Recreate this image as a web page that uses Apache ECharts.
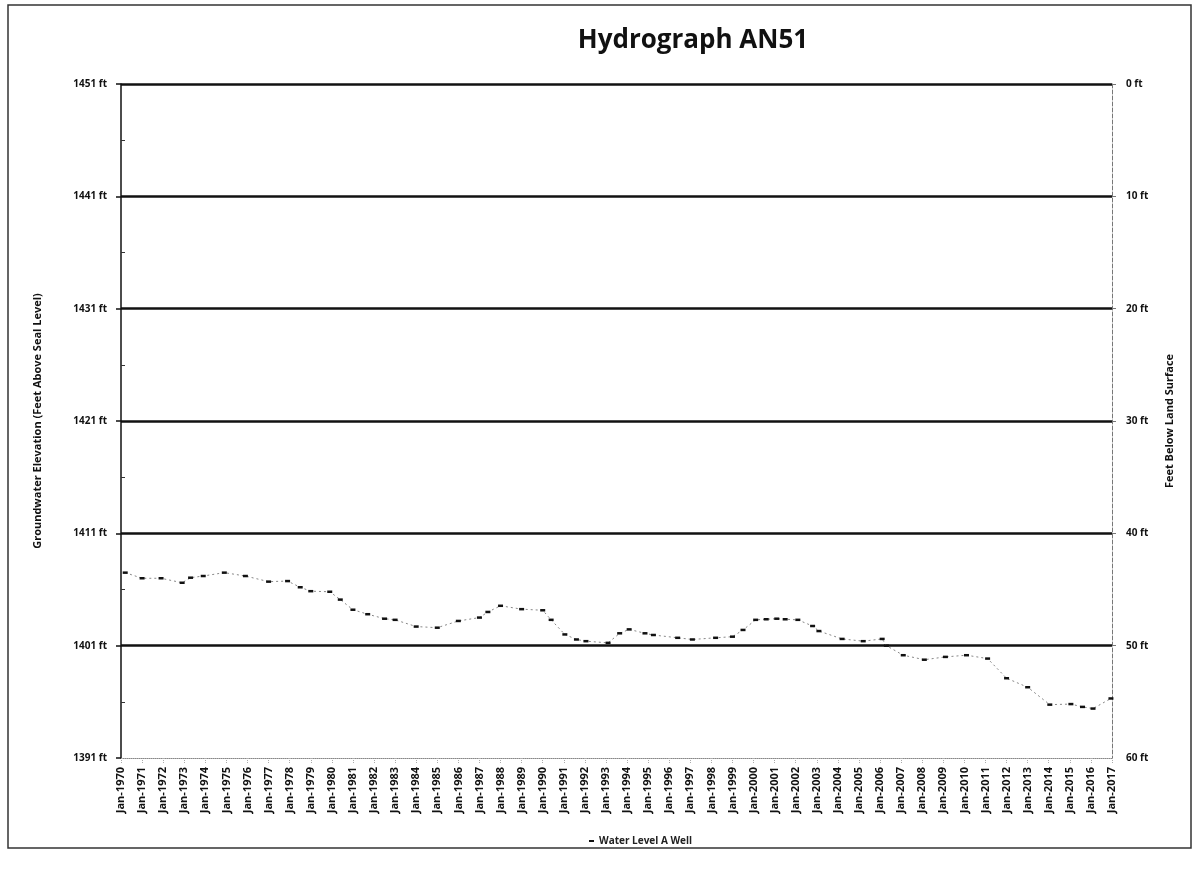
<!DOCTYPE html>
<html>
<head>
<meta charset="utf-8">
<title>Hydrograph AN51</title>
<script src="https://cdn.jsdelivr.net/npm/echarts@6/dist/echarts.min.js"></script>
<style>
	html, body { margin: 0; padding: 0; background: #fff; }
	#chart { width: 1197px; height: 877px; }
</style>
</head>
<body>
<div id="chart"></div>
<script>
	var sampleYears = [1970.2, 1971.0, 1971.9, 1972.9, 1973.3, 1973.9, 1974.9, 1975.9, 1977.0, 1977.9,
		1978.5, 1979.0, 1979.9, 1980.4, 1981.0, 1981.7, 1982.5, 1983.0, 1984.0, 1985.0,
		1986.0, 1987.0, 1987.4, 1988.0, 1989.0, 1990.0, 1990.4, 1991.05, 1991.6, 1992.05,
		1993.1, 1993.65, 1994.1, 1994.85, 1995.25, 1996.4, 1997.1, 1998.2, 1999.0, 1999.5,
		2000.1, 2000.6, 2001.1, 2001.5, 2002.1, 2002.8, 2003.1, 2004.2, 2005.2, 2006.1,
		2006.3, 2007.1, 2008.1, 2009.1, 2010.1, 2011.1, 2012.0, 2013.0, 2014.05, 2015.05,
		2015.6, 2016.1, 2016.95];
	var waterLevels = [1407.5, 1407.0, 1407.0, 1406.6, 1407.05, 1407.2, 1407.5, 1407.2, 1406.7, 1406.75,
		1406.2, 1405.85, 1405.8, 1405.1, 1404.2, 1403.8, 1403.4, 1403.3, 1402.7, 1402.6,
		1403.2, 1403.5, 1404.0, 1404.55, 1404.25, 1404.15, 1403.3, 1402.0, 1401.55, 1401.4,
		1401.25, 1402.1, 1402.45, 1402.1, 1401.95, 1401.7, 1401.55, 1401.7, 1401.8, 1402.4,
		1403.3, 1403.35, 1403.4, 1403.35, 1403.3, 1402.75, 1402.3, 1401.6, 1401.4, 1401.6,
		1401.0, 1400.15, 1399.75, 1400.0, 1400.15, 1399.85, 1398.1, 1397.3, 1395.75, 1395.8,
		1395.55, 1395.4, 1396.3];

	// tick labels
	var elevTicks = [1391, 1401, 1411, 1421, 1431, 1441, 1451];
	var elevMinorTicks = [1396, 1406, 1416, 1426, 1436, 1446];
	var depthTicks = [0, 10, 20, 30, 40, 50, 60];
	var depthGridTicks = [0, 10, 20, 30, 40, 50];
	var firstYear = 1970, lastYear = 2017;

	var seriesData = [];
	for (var i = 0; i < sampleYears.length; i++) {
		seriesData.push([sampleYears[i], waterLevels[i]]);
	}

	var labelFont = "Open Sans";
	var myChart = echarts.init(document.getElementById("chart"));

	var option = {
		backgroundColor: "#fff",
		animation: false,
		title: {
			text: "Hydrograph AN51",
			left: 688,
			top: 23,
			textAlign: "center",
			textStyle: {
				fontFamily: labelFont,
				fontSize: 26,
				fontWeight: "bold",
				color: "#111"
			}
		},
		graphic: [{
			type: "rect",
			shape: { x: 8, y: 5, width: 1183, height: 843 },
			style: { fill: "none", stroke: "#333", lineWidth: 1.5 },
			silent: true
		}],
		legend: {
			left: 584,
			top: 831,
			icon: "rect",
			itemWidth: 5,
			itemHeight: 2,
			itemGap: 10,
			textStyle: {
				fontFamily: labelFont,
				fontSize: 10,
				fontWeight: "bold",
				color: "#222"
			},
			data: ["Water Level A Well"]
		},
		grid: {
			left: 121,
			right: 85,
			top: 84,
			bottom: 119
		},
		xAxis: {
			type: "value",
			min: firstYear,
			max: lastYear,
			interval: 1,
			axisLine: {
				onZero: false,
				lineStyle: { color: "#888", type: "dotted", width: 1 }
			},
			axisTick: {
				length: 6,
				lineStyle: { color: "#aaa", type: "dotted" }
			},
			axisLabel: {
				rotate: 90,
				margin: 9,
				fontFamily: labelFont,
				fontSize: 11,
				fontWeight: "bold",
				color: "#111",
				formatter: function(v) {
					return "Jan-" + v;
				}
			},
			splitLine: { show: false }
		},
		yAxis: [{
			type: "value",
			position: "left",
			min: 1391,
			max: 1451,
			name: "Groundwater Elevation (Feet Above Seal Level)",
			nameLocation: "middle",
			nameGap: 78,
			nameTextStyle: {
				fontFamily: labelFont,
				fontSize: 11,
				fontWeight: "bold",
				color: "#111"
			},
			axisLine: {
				show: true,
				lineStyle: { color: "#111", width: 1.5 }
			},
			axisTick: {
				show: true,
				length: 5,
				customValues: elevTicks,
				lineStyle: { color: "#111", width: 1.5 }
			},
			axisLabel: {
				customValues: elevTicks,
				margin: 14,
				fontFamily: labelFont,
				fontSize: 10,
				fontWeight: "bold",
				color: "#111",
				formatter: function(v) {
					return v + " ft";
				}
			},
			splitLine: { show: false }
		}, {
			type: "value",
			position: "right",
			inverse: true,
			min: 0,
			max: 60,
			interval: 10,
			name: "Feet Below Land Surface",
			nameLocation: "middle",
			nameRotate: 90,
			nameGap: 52,
			nameTextStyle: {
				fontFamily: labelFont,
				fontSize: 11,
				fontWeight: "bold",
				color: "#111"
			},
			axisLine: {
				show: true,
				onZero: false,
				lineStyle: { color: "#777", type: "dashed", width: 1 }
			},
			axisTick: {
				show: true,
				length: 4,
				customValues: depthGridTicks,
				lineStyle: { color: "#777" }
			},
			axisLabel: {
				customValues: depthTicks,
				margin: 14,
				fontFamily: labelFont,
				fontSize: 10,
				fontWeight: "bold",
				color: "#111",
				formatter: function(v) {
					return v + " ft";
				}
			},
			splitLine: {
				show: true,
				lineStyle: { color: "#111", width: 2.5 }
			}
		}, {
			// minor ticks inside the left axis
			type: "value",
			position: "left",
			min: 1391,
			max: 1451,
			axisLine: { show: false },
			axisTick: {
				show: true,
				inside: true,
				length: 4,
				customValues: elevMinorTicks,
				lineStyle: { color: "#333" }
			},
			axisLabel: { show: false },
			splitLine: { show: false }
		}],
		series: [{
			name: "Water Level A Well",
			type: "line",
			yAxisIndex: 0,
			data: seriesData,
			symbol: "rect",
			symbolSize: [5, 2.5],
			showAllSymbol: true,
			itemStyle: { color: "#111" },
			lineStyle: {
				color: "#888",
				width: 1,
				type: [2, 3]
			},
			z: 5
		}]
	};
	myChart.setOption(option);
</script>
</body>
</html>
